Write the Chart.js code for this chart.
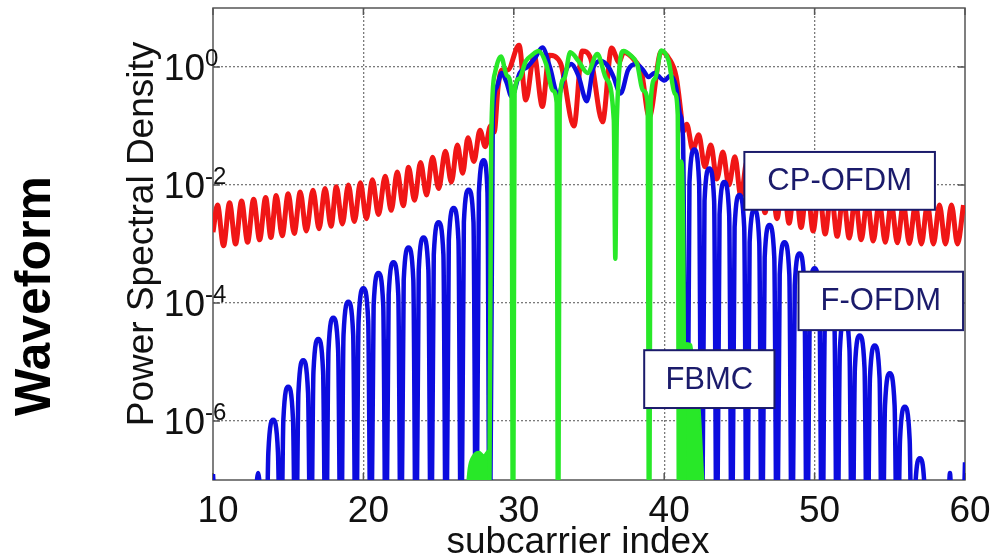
<!DOCTYPE html>
<html>
<head>
<meta charset="utf-8">
<script src="https://cdn.jsdelivr.net/npm/chart.js@4.4.1/dist/chart.umd.min.js"></script>
<style>
  html, body { margin: 0; padding: 0; background: #fff; }
  #wrap { width: 992px; height: 559px; }
</style>
</head>
<body>
<div id="wrap"><canvas id="psd" width="992" height="559"></canvas></div>
<script>
// axis ticks
const xTicks = [10, 20, 30, 40, 50, 60];
const yTickExp = [0, -2, -4, -6];   // labelled decades, 10^e

// CP-OFDM (red): subcarrier index and log10 of PSD
const cpX = [10.0, 10.3, 10.7, 11.1, 11.5, 11.9, 12.3, 12.7, 13.1, 13.5, 13.85, 14.2, 14.6, 15.0, 15.4, 15.8, 16.2, 16.65, 17.05, 17.45, 17.85, 18.2, 18.6, 19.0, 19.4, 19.8, 20.2, 20.6, 21.0, 21.45, 21.85, 22.25, 22.65, 23.0, 23.4, 23.8, 24.2, 24.6, 25.0, 25.45, 25.85, 26.25, 26.6, 26.95, 27.35, 27.75, 28.1, 28.45, 28.7, 28.95, 29.2, 29.6, 30.35, 30.8, 31.35, 31.9, 32.35, 33.1, 34.0, 34.55, 35.1, 35.9, 36.5, 37.0, 37.3, 38.0, 38.5, 39.0, 39.8, 40.3, 40.8, 41.1, 41.25, 41.5, 41.9, 42.3, 42.7, 43.1, 43.5, 43.9, 44.3, 44.7, 45.1, 45.5, 45.9, 46.3, 46.7, 47.1, 47.5, 47.9, 48.3, 48.7, 49.1, 49.5, 49.9, 50.3, 50.7, 51.1, 51.5, 51.9, 52.3, 52.7, 53.1, 53.5, 53.9, 54.3, 54.7, 55.1, 55.5, 55.9, 56.3, 56.7, 57.1, 57.5, 57.9, 58.3, 58.7, 59.1, 59.5, 59.9];
const cpLog = [-2.8, -2.34, -3.03, -2.30, -3.0, -2.27, -2.97, -2.24, -2.93, -2.21, -2.89, -2.18, -2.86, -2.15, -2.82, -2.12, -2.78, -2.09, -2.74, -2.06, -2.70, -2.03, -2.66, -2.0, -2.62, -1.96, -2.57, -1.91, -2.5, -1.85, -2.43, -1.78, -2.35, -1.70, -2.26, -1.62, -2.17, -1.53, -2.06, -1.43, -1.95, -1.32, -1.8, -1.2, -1.6, -1.07, -1.35, -1.0, -1.1, -0.35, -0.05, -0.05, 0.37, -0.56, 0.2, -0.67, 0.2, 0.07, -1.0, 0.27, 0.15, -0.93, 0.32, 0.08, 0.25, 0.12, -0.1, -0.85, 0.26, 0.15, -0.17, -0.75, -1.1, -0.97, -1.4, -1.15, -1.69, -1.32, -1.9, -1.44, -2.0, -1.52, -2.2, -1.6, -2.35, -1.68, -2.47, -1.76, -2.57, -1.84, -2.65, -1.92, -2.72, -2.0, -2.78, -2.07, -2.83, -2.13, -2.87, -2.18, -2.9, -2.22, -2.93, -2.26, -2.95, -2.29, -2.97, -2.31, -2.98, -2.33, -2.99, -2.34, -3.0, -2.34, -3.0, -2.34, -3.0, -2.34, -3.0, -2.34];

// F-OFDM (blue)
const foX = [10.0, 10.5, 12.5, 13.0, 13.5,
  13.68, 14.0, 14.32, 14.5, 14.68, 15.0, 15.32, 15.5, 15.68, 16.0, 16.32, 16.5, 16.68, 17.0, 17.32, 17.5,
  17.68, 18.0, 18.32, 18.5, 18.68, 19.0, 19.32, 19.5, 19.68, 20.0, 20.32, 20.5, 20.68, 21.0, 21.32, 21.5,
  21.68, 22.0, 22.32, 22.5, 22.68, 23.0, 23.32, 23.5, 23.68, 24.0, 24.32, 24.5, 24.68, 25.0, 25.32, 25.5,
  25.68, 26.0, 26.32, 26.5, 26.68, 27.0, 27.32, 27.5, 27.68, 28.0, 28.25, 28.4,
  28.6, 28.85, 29.2, 29.5, 29.85, 30.4, 30.9, 31.4, 31.9, 32.4, 32.95, 33.4, 33.8, 34.3, 34.85, 35.3, 35.8, 36.3, 36.6, 37.1, 37.6, 38.1, 38.6, 38.95, 39.35, 39.6, 40.0, 40.4, 40.8, 41.05, 41.25, 41.5,
  41.68, 42.0, 42.32, 42.5, 42.68, 43.0, 43.32, 43.5, 43.68, 44.0, 44.32, 44.5, 44.68, 45.0, 45.32, 45.5,
  45.68, 46.0, 46.32, 46.5, 46.68, 47.0, 47.32, 47.5, 47.68, 48.0, 48.32, 48.5, 48.68, 49.0, 49.32, 49.5,
  49.68, 50.0, 50.32, 50.5, 50.68, 51.0, 51.32, 51.5, 51.68, 52.0, 52.32, 52.5, 52.68, 53.0, 53.32, 53.5,
  53.68, 54.0, 54.32, 54.5, 54.68, 55.0, 55.32, 55.5, 55.68, 56.0, 56.32, 56.5, 56.68, 57.0, 57.32, 57.5,
  58.75, 59.0, 59.25, 59.75, 60.0];
const foLog = [-6.9, -9, -9, -6.88, -9,
  -6.53, -5.98, -6.53, -9, -5.97, -5.42, -5.97, -9, -5.52, -4.97, -5.52, -9, -5.16, -4.61, -5.16, -9,
  -4.8, -4.25, -4.8, -9, -4.53, -3.98, -4.53, -9, -4.3, -3.75, -4.3, -9, -4.04, -3.49, -4.04, -9,
  -3.86, -3.31, -3.86, -9, -3.61, -3.06, -3.61, -9, -3.44, -2.89, -3.44, -9, -3.18, -2.63, -3.18, -9,
  -2.94, -2.39, -2.94, -9, -2.63, -2.08, -2.63, -9, -2.13, -1.58, -2.13, -9,
  -0.9, -0.35, -0.1, -0.25, -0.5, -0.1, 0.0, 0.15, 0.33, 0.0, -0.48, -0.1, 0.05, -0.15, -0.58, 0.0, 0.1, 0.0, -0.15, -0.45, -0.05, 0.05, -0.05, -0.17, -0.1, -0.15, -0.23, -0.15, -0.35, -0.8, -1.2, -9,
  -1.95, -1.4, -1.95, -9, -2.27, -1.72, -2.27, -9, -2.5, -1.95, -2.5, -9, -2.72, -2.17, -2.72, -9,
  -2.97, -2.42, -2.97, -9, -3.23, -2.68, -3.23, -9, -3.52, -2.97, -3.52, -9, -3.71, -3.16, -3.71, -9,
  -3.96, -3.41, -3.96, -9, -4.35, -3.8, -4.35, -9, -4.8, -4.25, -4.8, -9, -5.1, -4.55, -5.1, -9,
  -5.27, -4.72, -5.27, -9, -5.74, -5.19, -5.74, -9, -6.31, -5.76, -6.31, -9, -7.18, -6.63, -7.18, -9,
  -9, -6.88, -9, -9, -6.7];

// FBMC (green) main curve
const fbX = [28.35, 28.5, 28.75, 29.15, 29.55, 29.85, 29.95, 30.05, 30.35, 30.8, 31.2, 31.65, 32.15, 32.6, 32.85, 32.95, 33.05, 33.35, 33.75, 34.3, 34.9, 35.55, 36.15, 36.65, 36.75, 36.85, 37.3, 37.75, 38.2, 38.6, 38.9, 39.0, 39.1, 39.4, 39.8, 40.3, 40.7, 40.9, 41.0, 41.12, 41.3, 41.35];
const fbLog = [-9, -1.2, -0.1, 0.18, -0.15, -0.45, -9, -0.45, -0.2, 0.1, 0.2, 0.27, 0.05, -0.4, -0.6, -9, -0.6, -0.2, 0.25, 0.1, -0.1, 0.22, -0.2, -0.9, -3.25, -0.9, 0.27, 0.2, 0.05, -0.4, -0.6, -9, -0.6, -0.2, 0.28, 0.1, -0.45, -0.8, -9, -1.6, -4.7, -9];
// FBMC dense sidelobe clusters near the band edges (outline of the filled area)
const fbLeftX = [26.85, 27.0, 27.25, 27.7, 28.0, 28.3, 28.4];
const fbLeftLog = [-7.2, -6.8, -6.6, -6.52, -6.58, -6.5, -7.2];
const fbRightX = [41.25, 41.3, 41.8, 42.0, 42.35, 42.6, 42.65];
const fbRightLog = [-7.2, -4.68, -4.7, -5.19, -5.76, -6.99, -7.2];

const RED = 'rgb(240,22,22)';
const BLUE = 'rgb(12,12,222)';
const GREEN = 'rgb(40,232,40)';
const NAVY = '#1b1b6b';
const FONT = "'Liberation Sans', Arial, sans-serif";

function pts(xs, logs) {
  return xs.map((x, i) => ({ x: x, y: Math.pow(10, logs[i]) }));
}

// label boxes, placed in data coordinates (x, log10 y)
const boxes = [
  { text: 'CP-OFDM', x0: 45.33, x1: 58.0, l0: -1.44, l1: -2.42 },
  { text: 'F-OFDM', x0: 48.93, x1: 59.87, l0: -3.47, l1: -4.46 },
  { text: 'FBMC', x0: 38.67, x1: 47.33, l0: -4.80, l1: -5.78 }
];

const decor = {
  id: 'decor',
  beforeDatasetsDraw(chart) {
    const { ctx, chartArea: a, scales: { x, y } } = chart;
    ctx.save();
    ctx.strokeStyle = '#555';
    ctx.lineWidth = 1.5;
    ctx.strokeRect(a.left, a.top, a.right - a.left, a.bottom - a.top);
    ctx.beginPath();
    xTicks.forEach(v => {
      const px = x.getPixelForValue(v);
      ctx.moveTo(px, a.bottom); ctx.lineTo(px, a.bottom - 7);
      ctx.moveTo(px, a.top); ctx.lineTo(px, a.top + 7);
    });
    yTickExp.forEach(e => {
      const py = y.getPixelForValue(Math.pow(10, e));
      ctx.moveTo(a.left, py); ctx.lineTo(a.left + 7, py);
      ctx.moveTo(a.right, py); ctx.lineTo(a.right - 7, py);
    });
    ctx.stroke();
    ctx.restore();
  },
  afterDraw(chart) {
    const { ctx, chartArea: a, scales: { x, y } } = chart;
    ctx.save();
    // label boxes
    boxes.forEach(b => {
      const left = x.getPixelForValue(b.x0), right = x.getPixelForValue(b.x1);
      const top = y.getPixelForValue(Math.pow(10, b.l0)), bottom = y.getPixelForValue(Math.pow(10, b.l1));
      ctx.fillStyle = '#fff';
      ctx.fillRect(left, top, right - left, bottom - top);
      ctx.strokeStyle = NAVY;
      ctx.lineWidth = 2;
      ctx.strokeRect(left, top, right - left, bottom - top);
      ctx.fillStyle = NAVY;
      ctx.font = '31px ' + FONT;
      ctx.textAlign = 'center';
      ctx.textBaseline = 'middle';
      ctx.fillText(b.text, (left + right) / 2, (top + bottom) / 2 + 1);
    });
    ctx.fillStyle = '#111';
    // x tick labels
    ctx.font = '37px ' + FONT;
    ctx.textAlign = 'center';
    ctx.textBaseline = 'alphabetic';
    xTicks.forEach(v => ctx.fillText(String(v), x.getPixelForValue(v) + 5, 522));
    // y tick labels 10^e
    yTickExp.forEach(e => {
      const py = y.getPixelForValue(Math.pow(10, e));
      ctx.font = '37px ' + FONT;
      ctx.textAlign = 'right';
      ctx.textBaseline = 'middle';
      ctx.fillText('10', 205, py + 3);
      ctx.font = '24px ' + FONT;
      ctx.textAlign = 'left';
      ctx.fillText(String(e), 205, py - 8);
    });
    // axis titles
    ctx.font = '37px ' + FONT;
    ctx.textAlign = 'center';
    ctx.textBaseline = 'alphabetic';
    ctx.fillText('subcarrier index', 578, 553);
    ctx.save();
    ctx.translate(153, 234);
    ctx.rotate(-Math.PI / 2);
    ctx.fillText('Power Spectral Density', 0, 0);
    ctx.restore();
    ctx.save();
    ctx.translate(50, 296);
    ctx.rotate(-Math.PI / 2);
    ctx.font = 'bold 50px ' + FONT;
    ctx.fillStyle = '#000';
    ctx.fillText('Waveform', 0, 0);
    ctx.restore();
    ctx.restore();
  }
};

const lineSet = (label, data, color, width, order) => ({
  label: label,
  data: data,
  borderColor: color,
  backgroundColor: color,
  borderWidth: width,
  pointRadius: 0,
  cubicInterpolationMode: 'monotone',
  fill: false,
  clip: 0,
  order: order
});

new Chart(document.getElementById('psd'), {
  type: 'line',
  data: {
    datasets: [
      lineSet('FBMC', pts(fbX, fbLog), GREEN, 4.5, 0),
      Object.assign(lineSet('FBMC edge L', pts(fbLeftX, fbLeftLog), GREEN, 2, 1), { fill: 'start' }),
      Object.assign(lineSet('FBMC edge R', pts(fbRightX, fbRightLog), GREEN, 2, 1), { fill: 'start' }),
      lineSet('F-OFDM', pts(foX, foLog), BLUE, 4.5, 2),
      lineSet('CP-OFDM', pts(cpX, cpLog), RED, 5, 3)
    ]
  },
  options: {
    responsive: false,
    animation: false,
    devicePixelRatio: 1,
    layout: { padding: { left: 213, right: 27, top: 8, bottom: 79 } },
    plugins: { legend: { display: false }, tooltip: { enabled: false }, title: { display: false } },
    scales: {
      x: {
        type: 'linear', min: 10, max: 60,
        afterBuildTicks: s => { s.ticks = [20, 30, 40, 50].map(v => ({ value: v })); },
        ticks: { display: false },
        grid: { color: 'rgba(100,100,100,0.85)', lineWidth: 1.3, drawTicks: false },
        border: { display: false, dash: [2, 2] }
      },
      y: {
        type: 'logarithmic', min: 1e-7, max: 10,
        afterBuildTicks: s => { s.ticks = yTickExp.map(e => ({ value: Math.pow(10, e) })); },
        ticks: { display: false },
        grid: { color: 'rgba(100,100,100,0.85)', lineWidth: 1.3, drawTicks: false },
        border: { display: false, dash: [2, 2] }
      }
    }
  },
  plugins: [decor]
});
</script>
</body>
</html>
